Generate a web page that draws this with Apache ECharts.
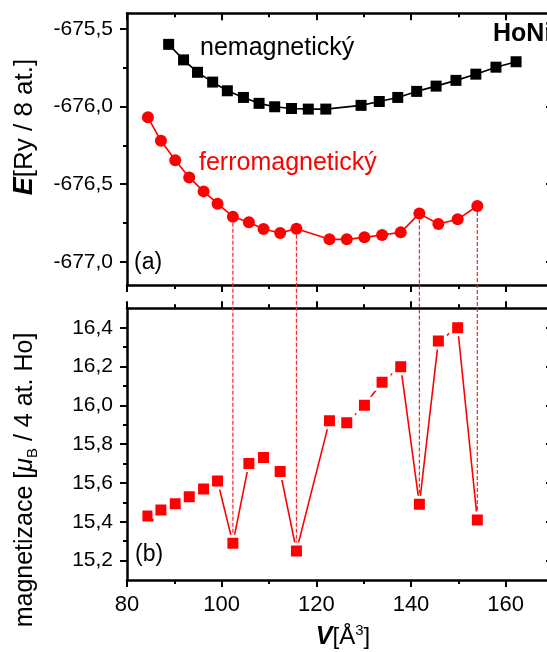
<!DOCTYPE html>
<html><head><meta charset="utf-8">
<script src="https://cdn.jsdelivr.net/npm/echarts@6/dist/echarts.min.js"></script>
<style>html,body{margin:0;padding:0;background:#fff}#c{width:547px;height:652px}</style>
</head><body><div id="c"></div>
<script>
// ---- data ----
const nonmagV = [88.8, 91.95, 94.9, 98.1, 101.2, 104.6, 107.9, 111.2, 114.75, 118.3, 122.0, 129.45, 133.3, 137.2, 141.2, 145.3, 149.5, 153.7, 157.95, 162.2];
const nonmagE = [-675.60, -675.70, -675.78, -675.843, -675.899, -675.942, -675.98, -676.002, -676.013, -676.017, -676.017, -675.993, -675.968, -675.942, -675.903, -675.869, -675.832, -675.792, -675.747, -675.712];
const ferroV = [84.42, 87.17, 90.2, 93.15, 96.18, 99.13, 102.37, 105.75, 108.84, 112.36, 115.8, 122.77, 126.43, 130.16, 133.89, 137.83, 141.77, 145.78, 149.86, 154.01];
const ferroE = [-676.07, -676.221, -676.347, -676.457, -676.547, -676.626, -676.71, -676.746, -676.789, -676.815, -676.787, -676.856, -676.856, -676.843, -676.828, -676.811, -676.69, -676.757, -676.727, -676.641];
const magnet = [15.43, 15.461, 15.493, 15.529, 15.569, 15.61, 15.289, 15.70, 15.731, 15.659, 15.25, 15.92, 15.91, 16.0, 16.119, 16.199, 15.49, 16.331, 16.40, 15.409];
const dropIdx = [6, 10, 16, 19];
const xMajor = [80, 100, 120, 140, 160];
const xMinor = [90, 110, 130, 150];
const eMajor = [-677.0, -676.5, -676.0, -675.5];
const eMinor = [-676.75, -676.25, -675.75];
const mMajor = [15.2, 15.4, 15.6, 15.8, 16.0, 16.2, 16.4];
const mMinor = [15.3, 15.5, 15.7, 15.9, 16.1, 16.3];

const FONT = '"Liberation Sans", Arial, Helvetica, sans-serif';
const chart = echarts.init(document.getElementById('c'), null, {renderer: 'canvas'});
const fmt = v => Number(v).toFixed(1).replace('.', ',');

function ax(kind, grid, pos, min, max, ticks, len, inside, labels, lineShow) {
  const o = {
    type: 'value', gridIndex: grid, position: pos, min: min, max: max,
    axisLine: {show: lineShow, onZero: false, lineStyle: {color: '#000', width: 2.5}},
    axisTick: {show: true, inside: inside, length: len, customValues: ticks, lineStyle: {color: '#000', width: 2}},
    axisLabel: {show: labels, customValues: ticks, color: '#000', fontFamily: FONT,
                showMinLabel: true, showMaxLabel: true, hideOverlap: false},
    splitLine: {show: false}, minorTick: {show: false}, minorSplitLine: {show: false}
  };
  if (kind === 'x') {
    o.axisLabel.fontSize = 22; o.axisLabel.margin = 14;
    o.axisLabel.formatter = v => String(Math.round(v));
  } else {
    o.axisLabel.fontSize = 21; o.axisLabel.margin = 14;
    o.axisLabel.formatter = fmt;
  }
  return o;
}
const EMIN = -677.15, EMAX = -675.4, MMIN = 15.1, MMAX = 16.5;
const xAxis = [
  ax('x', 0, 'bottom', 80, 170, xMajor, 7, false, false, true),  //0
  ax('x', 0, 'bottom', 80, 170, xMinor, 4, false, false, false), //1
  ax('x', 0, 'top', 80, 170, xMajor, 7, true, false, true),      //2
  ax('x', 0, 'top', 80, 170, xMinor, 4, true, false, false),     //3
  ax('x', 1, 'bottom', 80, 170, xMajor, 7, false, true, true),   //4
  ax('x', 1, 'bottom', 80, 170, xMinor, 4, false, false, false), //5
  ax('x', 1, 'top', 80, 170, xMajor, 7, false, false, true),     //6
  ax('x', 1, 'top', 80, 170, xMinor, 4, false, false, false)     //7
];
const yAxis = [
  ax('y', 0, 'left', EMIN, EMAX, eMajor, 7, false, true, true),   //0
  ax('y', 0, 'left', EMIN, EMAX, eMinor, 4, false, false, false), //1
  ax('y', 0, 'right', EMIN, EMAX, eMajor, 7, true, false, true),  //2
  ax('y', 1, 'left', MMIN, MMAX, mMajor, 7, false, true, true),   //3
  ax('y', 1, 'left', MMIN, MMAX, mMinor, 4, false, false, false), //4
  ax('y', 1, 'right', MMIN, MMAX, mMajor, 7, true, false, true)   //5
];

const pairs = (xs, ys) => xs.map((x, i) => [x, ys[i]]);

const textG = [
  {id: 'tNon', type: 'text', left: 200, top: 36, z: 10,
   style: {text: 'nemagnetický', fill: '#000', font: '25px ' + FONT}},
  {id: 'tFer', type: 'text', left: 199, top: 151, z: 10,
   style: {text: 'ferromagnetický', fill: '#ff0000', font: '25px ' + FONT}},
  {id: 'tHo', type: 'text', x: 493, y: 22, z: 10,
   style: {text: 'HoNi', fill: '#000', font: 'bold 25px ' + FONT}},
  {id: 'tA', type: 'text', left: 134, top: 251, z: 10,
   style: {text: '(a)', fill: '#000', font: '23px ' + FONT}},
  {id: 'tB', type: 'text', left: 135, top: 543, z: 10,
   style: {text: '(b)', fill: '#000', font: '23px ' + FONT}},
  {id: 'tE', type: 'text', x: 25, y: 127, rotation: Math.PI / 2, z: 10,
   style: {text: '{e|E}[Ry / 8 at.]', align: 'center', verticalAlign: 'middle',
     fill: '#000', font: '26px ' + FONT,
     rich: {e: {fontFamily: FONT, fontSize: 27, fontWeight: 'bold', fontStyle: 'italic', fill: '#000'}}}},
  {id: 'tM', type: 'text', x: 25, y: 480, rotation: Math.PI / 2, z: 10,
   style: {text: 'magnetizace [{mu|μ}{sub|B} / 4 at. Ho]', align: 'center', verticalAlign: 'middle',
     fill: '#000', font: '25px ' + FONT,
     rich: {mu: {fontFamily: FONT, fontSize: 25, fontStyle: 'italic', fill: '#000'},
            sub: {fontFamily: FONT, fontSize: 15, fill: '#000', verticalAlign: 'bottom', lineHeight: 30}}}},
  {id: 'tV', type: 'text', x: 343, y: 637, z: 10,
   style: {text: '{v|V}[Å{sup|3}]', align: 'center', verticalAlign: 'middle',
     fill: '#000', font: '24px ' + FONT,
     rich: {v: {fontFamily: FONT, fontSize: 25, fontWeight: 'bold', fontStyle: 'italic', fill: '#000'},
            sup: {fontFamily: FONT, fontSize: 15, fill: '#000', verticalAlign: 'top', lineHeight: 28}}}}
];

chart.setOption({
  animation: false,
  backgroundColor: '#fff',
  grid: [
    {left: 127, top: 13.3, width: 426, height: 271.7, containLabel: false, outerBoundsMode: 'none'},
    {left: 127, top: 308.3, width: 426, height: 271.7, containLabel: false, outerBoundsMode: 'none'}
  ],
  xAxis: xAxis,
  yAxis: yAxis,
  series: [
    {type: 'line', name: 'nemagnetický', xAxisIndex: 0, yAxisIndex: 0, data: pairs(nonmagV, nonmagE),
     symbol: 'rect', symbolSize: 11, lineStyle: {color: '#000', width: 1.6},
     itemStyle: {color: '#000'}, z: 5},
    {type: 'line', name: 'ferromagnetický', xAxisIndex: 0, yAxisIndex: 0, data: pairs(ferroV, ferroE),
     symbol: 'circle', symbolSize: 12, lineStyle: {color: '#ff0000', width: 1.6},
     itemStyle: {color: '#ff0000'}, z: 5},
    {type: 'line', name: 'magnetizace', xAxisIndex: 4, yAxisIndex: 3, data: pairs(ferroV, magnet),
     symbol: 'rect', symbolSize: 14, lineStyle: {color: '#ff0000', width: 1.6},
     itemStyle: {color: '#ff0000', borderColor: '#fff', borderWidth: 3}, z: 5}
  ],
  graphic: textG
});

// dashed guide lines from E(V) point to magnetization point, through the library's scales
const lines = dropIdx.map((i, k) => {
  const p1 = chart.convertToPixel({xAxisIndex: 0, yAxisIndex: 0}, [ferroV[i], ferroE[i]]);
  const p2 = chart.convertToPixel({xAxisIndex: 4, yAxisIndex: 3}, [ferroV[i], magnet[i]]);
  return {id: 'dl' + k, type: 'line', z: 1,
    shape: {x1: p1[0], y1: p1[1], x2: p2[0], y2: p2[1]},
    style: {stroke: '#ff2020', lineWidth: 1.2, lineDash: [4, 2]}};
});
chart.setOption({graphic: textG.concat(lines)});
</script>
</body></html>
